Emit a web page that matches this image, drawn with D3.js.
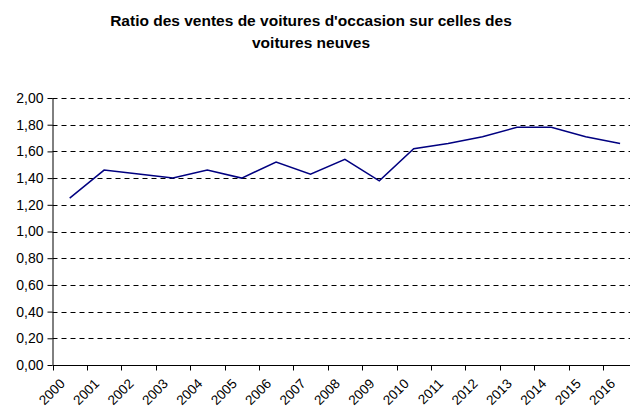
<!DOCTYPE html>
<html>
<head>
<meta charset="utf-8">
<script src="https://cdn.jsdelivr.net/npm/d3@7"></script>
<style>
  body { margin: 0; background: #fff; }
  svg { display: block; font-family: Arial, "Liberation Sans", sans-serif; }
</style>
</head>
<body>
<svg class="chart" width="630" height="410"></svg>
<script>
const years = ['2000', '2001', '2002', '2003', '2004', '2005', '2006', '2007', '2008',
  '2009', '2010', '2011', '2012', '2013', '2014', '2015', '2016'];
const ratios = [1.25, 1.46, 1.43, 1.40, 1.46, 1.40, 1.52, 1.43, 1.54,
  1.38, 1.62, 1.66, 1.71, 1.78, 1.78, 1.71, 1.66];
const yTicks = [0, 0.2, 0.4, 0.6, 0.8, 1.0, 1.2, 1.4, 1.6, 1.8, 2.0];

const svg = d3.select('svg.chart');
const plotLeft = 52.5;
const plotTop = 98;
const plotBottom = 365;
const step = 34.4;

const x = d3.scaleBand()
  .domain(years)
  .range([plotLeft, plotLeft + step * years.length])
  .padding(0);

const y = d3.scaleLinear()
  .domain([0, 2])
  .range([plotBottom, plotTop]);

const fmt = d => d3.format('.2f')(d).replace('.', ',');

// title
svg.append('text')
  .attr('x', 311)
  .attr('y', 26)
  .attr('text-anchor', 'middle')
  .style('font-size', '15.5px')
  .style('font-weight', 'bold')
  .selectAll('tspan')
  .data(["Ratio des ventes de voitures d'occasion sur celles des", 'voitures neuves'])
  .enter()
  .append('tspan')
  .attr('x', 311)
  .attr('dy', (d, i) => (i ? 22 : 0))
  .text(d => d);

// dashed grid lines
svg.append('g')
  .selectAll('line')
  .data(yTicks.filter(d => d > 0))
  .enter()
  .append('line')
  .attr('x1', plotLeft)
  .attr('x2', 630)
  .attr('y1', d => Math.round(y(d)) + 0.5)
  .attr('y2', d => Math.round(y(d)) + 0.5)
  .style('stroke', '#000')
  .style('stroke-dasharray', '5,4');

// y axis
const yAxis = svg.append('g')
  .attr('transform', `translate(${plotLeft},0)`)
  .call(d3.axisLeft(y).tickValues(yTicks).tickFormat(fmt).tickSize(5).tickPadding(4));
yAxis.select('.domain').attr('d', `M0.5,${plotTop}V${plotBottom}`);
yAxis.selectAll('text').style('font-size', '14px').style('fill', '#000');

// x axis
const xAxis = svg.append('g')
  .attr('transform', `translate(0,${Math.round(plotBottom) + 0.5})`);
xAxis.append('line')
  .attr('x1', plotLeft)
  .attr('x2', 630)
  .style('stroke', '#000');
xAxis.selectAll('line.tick')
  .data(years)
  .enter()
  .append('line')
  .classed('tick', true)
  .attr('x1', d => Math.round(x(d)) + 0.5)
  .attr('x2', d => Math.round(x(d)) + 0.5)
  .attr('y1', 0)
  .attr('y2', 5)
  .style('stroke', '#000');
xAxis.selectAll('text')
  .data(years)
  .enter()
  .append('text')
  .attr('text-anchor', 'end')
  .attr('transform', d => `translate(${x(d) + x.bandwidth() / 2 - 4},${19}) rotate(-45)`)
  .style('font-size', '13.5px')
  .text(d => d);

// line
const line = d3.line()
  .x((d, i) => x(years[i]) + x.bandwidth() / 2)
  .y(d => y(d));

svg.append('path')
  .datum(ratios)
  .attr('d', line)
  .style('fill', 'none')
  .style('stroke', '#000080')
  .style('stroke-width', 1.5);
</script>
</body>
</html>
